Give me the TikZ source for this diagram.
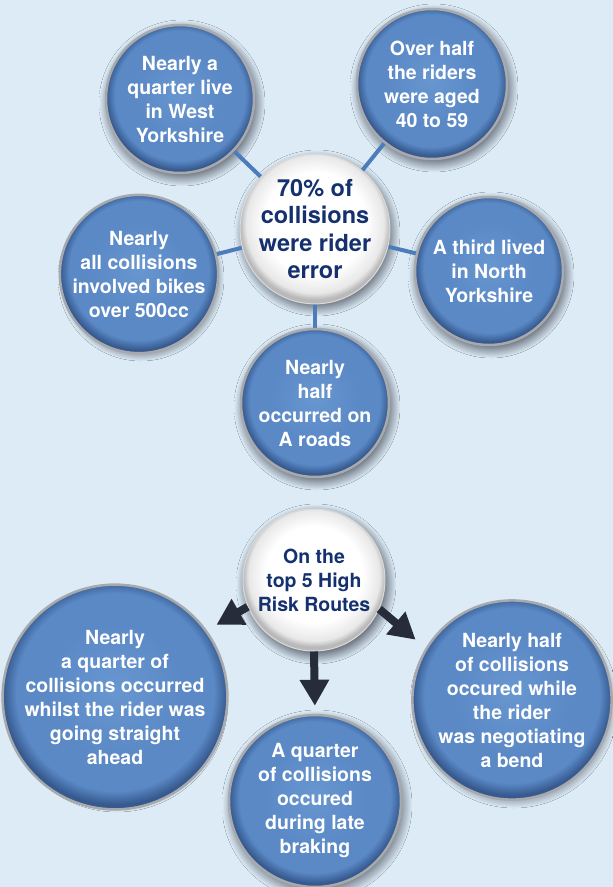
\documentclass[tikz,border=0pt]{standalone}
\usepackage{fontspec}
\setsansfont{TeX Gyre Heros}
\usepackage{xcolor}
\usepackage{tikz}
\usetikzlibrary{arrows.meta}

\definecolor{bgblue}{HTML}{DCEBF6}
\definecolor{btnlight}{HTML}{6896D0}
\definecolor{btnmid}{HTML}{5A89C6}
\definecolor{btndark}{HTML}{36598E}
\definecolor{rim}{HTML}{A7A9AC}
\definecolor{linkblue}{HTML}{4C7CBA}
\definecolor{navytext}{HTML}{14306E}
\definecolor{arrowdark}{HTML}{272C3B}
\definecolor{shadowgray}{HTML}{4A515C}

\pgfdeclareradialshading{bluebutton}{\pgfpoint{0bp}{2bp}}{color(0bp)=(btnlight); color(15bp)=(btnmid); color(22bp)=(btnmid); color(25bp)=(btndark); color(50bp)=(btndark)}
\pgfdeclareradialshading{whitebutton}{\pgfpoint{0bp}{3bp}}{color(0bp)=(white); color(17bp)=(white); color(23bp)=(gray!18); color(25bp)=(gray!55); color(50bp)=(gray!55)}
\pgfdeclareradialshading{softshadow}{\pgfpoint{0bp}{0bp}}{color(0bp)=(shadowgray); color(19.5bp)=(shadowgray); color(22bp)=(shadowgray!55!bgblue); color(25bp)=(bgblue); color(50bp)=(bgblue)}

\pgfdeclarelayer{back}
\pgfdeclarelayer{shadows}
\pgfdeclarelayer{links}
\pgfsetlayers{back,shadows,links,main}

\begin{document}
\begin{tikzpicture}[x=1pt, y=-1pt,
    fact/.style={circle, shading=bluebutton, draw=rim, line width=2.5pt,
      inner sep=0pt, align=center, text=white,
      font=\sffamily\bfseries\fontsize{19.5}{24}\selectfont},
    hub/.style={circle, shading=whitebutton, draw=gray!30, line width=1pt,
      inner sep=0pt, align=center, text=navytext},
    link/.style={linkblue, line width=4pt},
    route/.style={arrowdark, line width=8pt, -{Triangle[width=28pt, length=26pt]}}]
  \useasboundingbox (0,0) rectangle (613,887);
  \begin{pgfonlayer}{back}
    \fill[bgblue] (0,0) rectangle (613,887);
  \end{pgfonlayer}

  % Who the riders were
  \node[hub, minimum size=148pt, font=\sffamily\bfseries\fontsize{23.5}{27.5}\selectfont] (rider) at (315,229) {70\% of\\collisions\\were rider\\error};
  \node[fact, minimum size=148pt] (westyorks) at (180,99) {Nearly a\\quarter live\\in West\\Yorkshire};
  \node[fact, minimum size=150pt] (aged) at (432,84) {Over half\\the riders\\were aged\\40 to 59};
  \node[fact, minimum size=148pt] (bikes) at (139,274) {Nearly\\all collisions\\involved bikes\\over 500cc};
  \node[fact, minimum size=148pt] (northyorks) at (489,271) {A third lived\\in North\\Yorkshire};
  \node[fact, minimum size=148pt] (aroads) at (315,403) {Nearly\\half\\occurred on\\A roads};

  \begin{pgfonlayer}{links}
    \draw[link] (rider.center) -- (westyorks.center);
    \draw[link] (rider.center) -- (aged.center);
    \draw[link] (rider.center) -- (bikes.center);
    \draw[link] (rider.center) -- (northyorks.center);
    \draw[link] (rider.center) -- (aroads.center);
  \end{pgfonlayer}

  % High Risk Routes
  \node[hub, minimum size=142pt, font=\sffamily\bfseries\fontsize{19.5}{24}\selectfont] (routes) at (314,580) {On the\\top 5 High\\Risk Routes};
  \node[fact, minimum size=204pt] (straight) at (115,697) {Nearly\\a quarter of\\collisions occurred\\whilst the rider was\\going straight\\ahead};
  \node[fact, minimum size=190pt] (bend) at (512,700) {Nearly half\\of collisions\\occured while\\the rider\\was negotiating\\a bend};
  \node[fact, minimum size=172pt] (braking) at (315,801) {A quarter\\of collisions\\occured\\during late\\braking};

  \draw[route, shorten >=11pt] (routes.202) -- (straight.36);
  \draw[route, shorten >=13pt] (routes.-24) -- (bend.149);
  \draw[route, shorten >=8pt] (routes.-90) -- (braking.90);

  % soft shadows under every button
  \begin{pgfonlayer}{shadows}
    \foreach \n/\r in {rider/74, westyorks/74, aged/75, bikes/74, northyorks/74, aroads/74,
                       routes/71, straight/102, bend/95, braking/86}
      \fill[shading=softshadow] ([shift={(2,4)}]\n.center) circle [radius={(\r+9)*1pt}];
  \end{pgfonlayer}
\end{tikzpicture}
\end{document}
